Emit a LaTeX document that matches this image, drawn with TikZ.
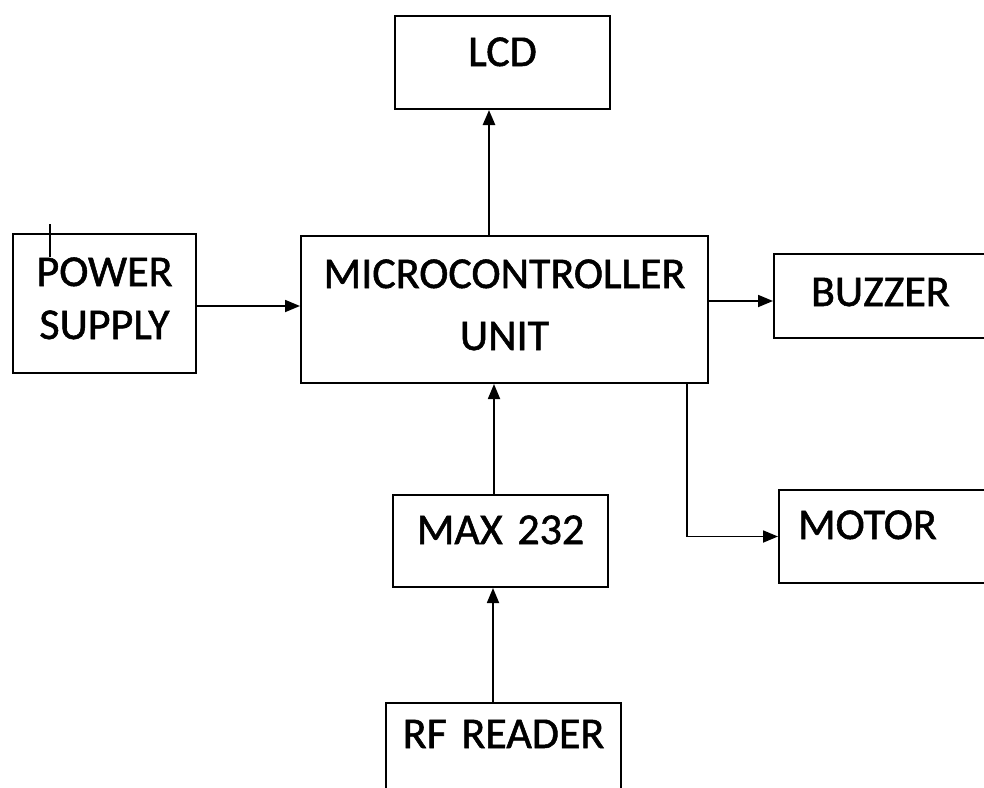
\documentclass[tikz,border=0pt]{standalone}
\usepackage{fontspec}
\setmainfont[FakeBold=1.2, WordSpace={0.6,0,0}]{Carlito}
\usepackage{tikz}
\usetikzlibrary{arrows.meta}

\begin{document}
\begin{tikzpicture}[x=1pt, y=-1pt,
    blk/.style={draw, line width=2pt, inner ysep=0pt, inner xsep=0pt, anchor=north west, align=center, font=\fontsize{44}{53}\selectfont},
    arr/.style={line width=1.8pt, -{Triangle[length=15pt,width=12pt]}}]
            \useasboundingbox (0,0) rectangle (984,787);
            \node[blk, text width=215pt, text height=50pt, text depth=43pt] (lcd) at (394,15) {LCD};
            \node[blk, text width=183pt, text height=52pt, text depth=87pt] (pwr) at (12,233) {POWER\\SUPPLY};
            \node[blk, text width=407pt, text height=52pt, text depth=95pt, font=\fontsize{44}{62}\selectfont] (mcu) at (300,235) {MICROCONTROLLER\\UNIT};
            \node[blk, align=left, inner xsep=37pt, text width=200pt, text height=52pt, text depth=32pt] (bz) at (773,253) {BUZZER};
            \node[blk, align=left, inner xsep=19pt, text width=250pt, text height=49pt, text depth=44pt] (mot) at (778,489) {MOTOR};
            \node[blk, text width=215pt, text height=49pt, text depth=43pt] (max) at (392,494) {MAX 232};
            \node[blk, text width=235pt, text height=45pt, text depth=100pt] (rf) at (385,702) {RF READER};
            \draw[line width=1.8pt] ([xshift=38pt,yshift=9pt]pwr.north west) -- ++(0,33);
            \draw[arr, line width=2.6pt] ([xshift=-15.5pt]mcu.north) -- ([xshift=-15.5pt]mcu.north |- lcd.south);
            \draw[arr] ([yshift=-2.5pt]pwr.east) -- ([yshift=-2.5pt]pwr.east -| mcu.west);
            \draw[arr] ([yshift=-5pt]bz.west -| mcu.east) -- ([yshift=-5pt]bz.west);
            \draw[arr] ([xshift=-22pt]mcu.south east) |- (mot.west);
            \draw[arr] ([xshift=-6.5pt]max.north) -- ([xshift=-6.5pt]max.north |- mcu.south);
            \draw[arr] ([xshift=-7.5pt]max.south |- rf.north) -- ([xshift=-7.5pt]max.south);
        \end{tikzpicture}
\end{document}
